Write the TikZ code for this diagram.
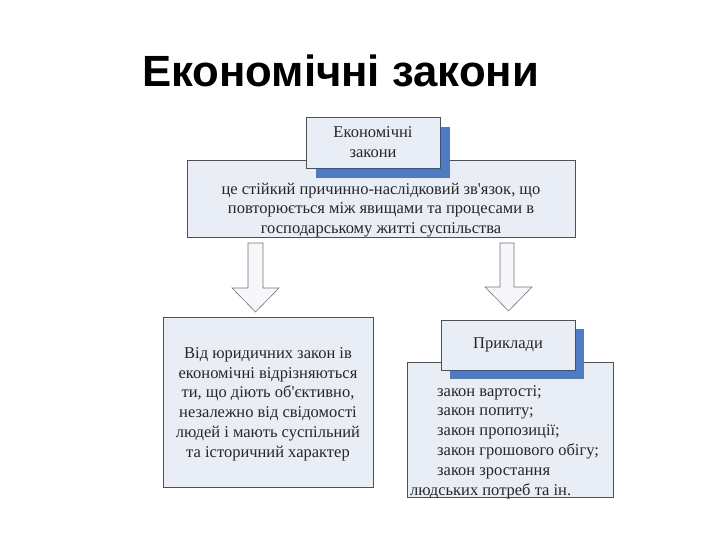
\documentclass[tikz,border=0pt]{standalone}
\usepackage{fontspec}
\setmainfont{Liberation Serif}[Ligatures=TeXOff]
\newfontfamily\titlefont{Liberation Sans}
\definecolor{boxfill}{HTML}{E9EDF6}
\definecolor{shadowblue}{HTML}{4F7BC2}
\definecolor{edge}{HTML}{505050}
\begin{document}
\begin{tikzpicture}[x=1pt,y=-1pt,
  panel/.style={draw=edge,line width=0.7pt,fill=boxfill,rectangle,inner sep=0pt},
  shade/.style={fill=shadowblue,rectangle,inner sep=0pt},
  body/.style={font=\fontsize{16.5}{19.8}\selectfont,inner sep=0pt,text=black!85},
  blockarrow/.style={draw=edge!80,line width=0.6pt,fill=white!55!boxfill}]
\useasboundingbox (0,0) rectangle (720,540);
% title
\node[anchor=base,inner sep=0pt,font=\titlefont\bfseries\fontsize{43.7}{48}\selectfont] (title) at (340.5,87) {Економічні закони};
% main box
\node[panel,minimum width=388pt,minimum height=77pt] (main) at (381,198.5) {};
\node[shade,minimum width=134pt,minimum height=51pt] (shadow1) at (383,152.5) {};
\node[panel,minimum width=134pt,minimum height=51pt,align=center,body] (head1) at (373,142.5) {Економічні\\закони};
\node[body,align=center] (maintext) at (381,210) {це стійкий причинно-наслідковий зв'язок, що\\повторюється між явищами та процесами в\\господарському житті суспільства};
% arrows
\draw[blockarrow] (248,243) -- (263,243) -- (263,288) -- (279,288) -- (255.5,312) -- (232,288) -- (248,288) -- cycle;
\draw[blockarrow] (500,243) -- (514,243) -- (514,287) -- (532,287) -- (508.5,311) -- (485,287) -- (500,287) -- cycle;
% left box
\node[panel,minimum width=210pt,minimum height=170pt] (left) at (268,402) {};
\node[body,align=center] (lefttext) at (268,404) {Від юридичних закон ів\\економічні відрізняються\\ти, що діють об'єктивно,\\незалежно від свідомості\\людей і мають суспільний\\та історичний характер};
% right box
\node[panel,minimum width=206pt,minimum height=135pt] (right) at (510,429.5) {};
\node[shade,minimum width=134pt,minimum height=50pt] (shadow2) at (517,354) {};
\node[panel,minimum width=134pt,minimum height=50pt,body] (head2) at (508,345) {Приклади};
\node[body,align=left,anchor=north west] (righttext) at (410,385) {\hspace*{27pt}закон вартості;\\\hspace*{27pt}закон попиту;\\\hspace*{27pt}закон пропозиції;\\\hspace*{27pt}закон грошового обігу;\\\hspace*{27pt}закон зростання\\людських потреб та ін.};
\end{tikzpicture}
\end{document}
